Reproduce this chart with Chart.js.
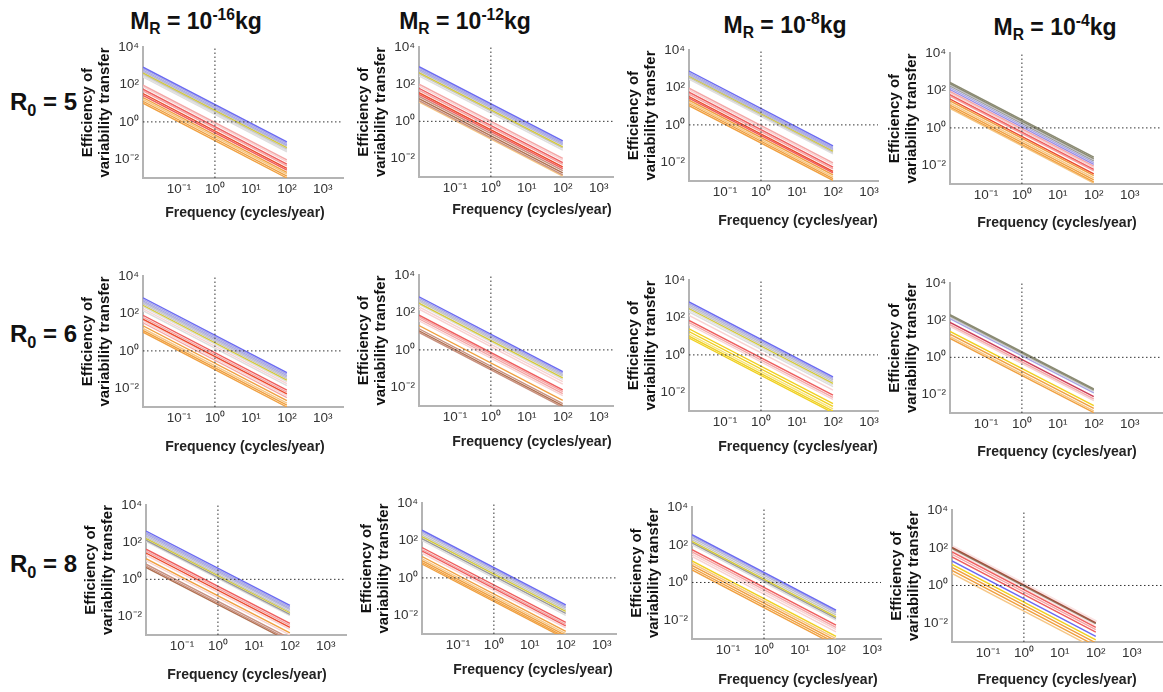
<!DOCTYPE html>
<html>
<head>
<meta charset="utf-8">
<script src="https://cdn.jsdelivr.net/npm/chart.js@4.4.1/dist/chart.umd.min.js"></script>
<style>
  body { margin: 0; width: 1163px; height: 692px; overflow: hidden; background: #fff; position: relative;
         font-family: "Liberation Sans", Arial, sans-serif; }
  .panel { position: absolute; }
  .head { position: absolute; font-weight: bold; font-size: 23px; white-space: nowrap; transform: translate(-50%, -50%); color: #111; }
  .row { position: absolute; left: 10px; font-weight: bold; font-size: 24px; white-space: nowrap; transform: translateY(-50%); color: #111; }
  sub, sup { font-size: 68%; }
</style>
</head>
<body>
<div class="head" style="left:196px;top:22px">M<sub>R</sub> = 10<sup>-16</sup>kg</div>
<div class="head" style="left:465px;top:22px">M<sub>R</sub> = 10<sup>-12</sup>kg</div>
<div class="head" style="left:785px;top:26px">M<sub>R</sub> = 10<sup>-8</sup>kg</div>
<div class="head" style="left:1055px;top:28px">M<sub>R</sub> = 10<sup>-4</sup>kg</div>
<div class="row" style="top:104px">R<sub>0</sub> = 5</div>
<div class="row" style="top:336px">R<sub>0</sub> = 6</div>
<div class="row" style="top:566px">R<sub>0</sub> = 8</div>

<script>
// axis ticks
const xTicks = [0.1, 1, 10, 100, 1000];
const xTickLabels = ['10⁻¹', '10⁰', '10¹', '10²', '10³'];
const yTicks = [0.01, 1, 100, 10000];
const yTickLabels = ['10⁻²', '10⁰', '10²', '10⁴'];
const xAxisTitle = 'Frequency (cycles/year)';
const yAxisTitle = ['Efficiency of', 'variability transfer'];
const lineStart = 0.01;
const lineEnd = 100;

// each line: [colour, value at f=0.01, value at f=100]
const r5m16 = [
  ['blue', 850, 0.085], ['lavender', 710, 0.071], ['lavender', 590, 0.059], ['grayblue', 500, 0.05],
  ['yellow', 420, 0.042], ['gray', 355, 0.0355], ['lightgray', 295, 0.0295], ['lightgray', 250, 0.025],
  ['pink', 93, 0.0093], ['lightpink', 76, 0.0076], ['red', 56, 0.0056], ['pink', 45, 0.0045],
  ['redorange', 33, 0.0033], ['red', 26, 0.0026], ['orange', 20, 0.002], ['lightorange', 16, 0.0016],
  ['orange', 12.6, 0.00126], ['orange', 10, 0.001]
];
const r5m12 = [
  ['blue', 890, 0.089], ['lavender', 740, 0.074], ['lavender', 630, 0.063], ['grayblue', 525, 0.0525],
  ['yellow', 415, 0.0415], ['gray', 355, 0.0355], ['lightgray', 280, 0.028],
  ['pink', 100, 0.01], ['lightpink', 80, 0.008], ['red', 60, 0.006], ['pink', 48, 0.0048],
  ['redorange', 35, 0.0035], ['red', 28, 0.0028], ['rosybrown', 22, 0.0022], ['brown', 16.5, 0.00165],
  ['rosybrown', 13, 0.0013], ['lightorange', 11, 0.0011]
];
const r5m8 = [
  ['blue', 760, 0.076], ['lavender', 630, 0.063], ['lavender', 540, 0.054], ['grayblue', 455, 0.0455],
  ['yellow', 400, 0.04], ['gray', 340, 0.034], ['lightgray', 280, 0.028],
  ['pink', 93, 0.0093], ['lightpink', 74, 0.0074], ['red', 56, 0.0056], ['pink', 44, 0.0044],
  ['redorange', 33, 0.0033], ['red', 27, 0.0027], ['orange', 21, 0.0021], ['lightorange', 16.5, 0.00165],
  ['orange', 13.5, 0.00135], ['orange', 10.7, 0.00107]
];
const r5m4 = [
  ['olive', 270, 0.027], ['olive', 230, 0.023], ['gray', 200, 0.02], ['darkgray', 175, 0.0175],
  ['lavender', 140, 0.014], ['bluepurple', 112, 0.0112], ['pink', 90, 0.009], ['lightpink', 74, 0.0074],
  ['red', 60, 0.006], ['pink', 50, 0.005], ['redorange', 35, 0.0035], ['orange', 28, 0.0028],
  ['lightorange', 21, 0.0021], ['orange', 16.5, 0.00165], ['orange', 13, 0.0013], ['lightorange', 11, 0.0011]
];
const r6m16 = [
  ['blue', 690, 0.069], ['lavender', 575, 0.0575], ['lavender', 480, 0.048], ['grayblue', 400, 0.04],
  ['gray', 330, 0.033], ['yellow', 275, 0.0275], ['lightgray', 230, 0.023], ['lightpink', 178, 0.0178],
  ['lightgray', 141, 0.0141], ['red', 80, 0.008], ['pink', 63, 0.0063], ['redorange', 50, 0.005],
  ['lightpink', 40, 0.004], ['pink', 32, 0.0032], ['orange', 22, 0.0022], ['lightorange', 16, 0.0016],
  ['orange', 12.5, 0.00125], ['orange', 10, 0.001]
];
const r6m12 = [
  ['blue', 690, 0.069], ['lavender', 575, 0.0575], ['grayblue', 480, 0.048], ['gray', 400, 0.04],
  ['yellow', 315, 0.0315], ['lightgray', 265, 0.0265], ['lightpink', 200, 0.02], ['lightpink', 150, 0.015],
  ['red', 72, 0.0072], ['pink', 58, 0.0058], ['pink', 46, 0.0046], ['lightpink', 36, 0.0036],
  ['orange', 20, 0.002], ['rosybrown', 13.5, 0.00135], ['brown', 10.5, 0.00105], ['rosybrown', 8.6, 0.00086]
];
const r6m8 = [
  ['blue', 675, 0.0675], ['lavender', 560, 0.056], ['grayblue', 455, 0.0455], ['gray', 370, 0.037],
  ['yellow', 300, 0.03], ['lightgray', 250, 0.025], ['lightgray', 200, 0.02], ['lightpink', 130, 0.013],
  ['red', 70, 0.007], ['pink', 54, 0.0054], ['lightpink', 42, 0.0042], ['gold', 25, 0.0025],
  ['gold', 17.8, 0.00178], ['lightgold', 13, 0.0013], ['gold', 10, 0.001], ['gold', 8, 0.0008]
];
const r6m4 = [
  ['olive', 200, 0.02], ['olive', 175, 0.0175], ['gray', 150, 0.015], ['lavender', 120, 0.012],
  ['crimson', 76, 0.0076], ['pink', 58, 0.0058], ['lightpink', 46, 0.0046], ['gold', 25, 0.0025],
  ['orange', 17.8, 0.00178], ['lightorange', 13, 0.0013], ['orange', 10.5, 0.00105]
];
const r8m16 = [
  ['blue', 400, 0.04], ['lavender', 330, 0.033], ['lavender', 275, 0.0275], ['grayblue', 230, 0.023],
  ['gray', 190, 0.019], ['yellow', 160, 0.016], ['darkgray', 130, 0.013], ['lightgray', 110, 0.011],
  ['red', 42, 0.0042], ['pink', 33, 0.0033], ['redorange', 26, 0.0026], ['lightpink', 20, 0.002],
  ['orange', 13, 0.0013], ['lightpink', 10, 0.001], ['rosybrown', 6.6, 0.00066], ['rosybrown', 5.2, 0.00052],
  ['brown', 4.4, 0.00044]
];
const r8m12 = [
  ['blue', 360, 0.036], ['lavender', 300, 0.03], ['grayblue', 250, 0.025], ['gray', 200, 0.02],
  ['yellow', 160, 0.016], ['darkgray', 126, 0.0126], ['lightgray', 100, 0.01], ['red', 42, 0.0042],
  ['pink', 33, 0.0033], ['red', 27.5, 0.00275], ['lightpink', 21, 0.0021], ['orange', 13.8, 0.00138],
  ['lightorange', 10.5, 0.00105], ['orange', 8.3, 0.00083], ['orange', 6.6, 0.00066], ['orange', 5.5, 0.00055]
];
const r8m8 = [
  ['blue', 345, 0.0345], ['lavender', 290, 0.029], ['grayblue', 240, 0.024], ['gray', 190, 0.019],
  ['yellow', 150, 0.015], ['darkgray', 126, 0.0126], ['lightgray', 100, 0.01], ['red', 55, 0.0055],
  ['pink', 42, 0.0042], ['lightpink', 32, 0.0032], ['lightpink', 24, 0.0024], ['gold', 13.8, 0.00138],
  ['lightorange', 10.5, 0.00105], ['orange', 8, 0.0008], ['orange', 6, 0.0006], ['orange', 4.6, 0.00046]
];
const r8m4 = [
  ['darkred', 105, 0.0105], ['olive', 93, 0.0093], ['red', 60, 0.006],
  ['pink', 45, 0.0045], ['red', 33, 0.0033], ['blue', 20, 0.002], ['gold', 13, 0.0013],
  ['orange', 9, 0.0009], ['orange', 6.3, 0.00063], ['lightorange', 4.4, 0.00044], ['haze', 100, 0.01]
];

const palette = {
  blue: '#6a6af2', lavender: '#a8a8e6', grayblue: '#babad2', gray: '#c6c6c6', darkgray: '#9a9a9a',
  lightgray: '#dedede', yellow: '#d4ca3a', olive: '#8a8a72', bluepurple: '#9a8ee8', pink: '#f4a6a6',
  lightpink: '#f8d2d2', red: '#ef5e5e', redorange: '#ec4a2c', crimson: '#cc3e58', darkred: '#a0503c',
  orange: '#f0a040', lightorange: '#f6c684', gold: '#f0d020', lightgold: '#f6e27a', rosybrown: '#c8907e',
  brown: '#b07050', haze: '#fbe4e4'
};

const panelLines = [r5m16, r5m12, r5m8, r5m4, r6m16, r6m12, r6m8, r6m4, r8m16, r8m12, r8m8, r8m4];

// page layout per panel: [axis x, top y (10^4), bottom y, x max, title centre x, title centre y]
const panelBoxes = [
  [143, 45, 178, 3630, 245, 213], [419, 45, 177, 2500, 532, 210], [689, 48, 181, 1780, 798, 221], [950, 51, 184, 7900, 1057, 223],
  [143, 274, 407, 3630, 245, 447], [419, 273, 406, 2500, 532, 442], [689, 278, 411, 1780, 798, 447], [950, 281, 413, 7900, 1057, 452],
  [146, 503, 635, 3630, 247, 675], [422, 501, 634, 2500, 533, 670], [692, 505, 639, 1780, 798, 680], [952, 508, 642, 7900, 1057, 680]
];

Chart.defaults.font.family = '"Liberation Sans", Arial, sans-serif';

const xTitlePlugin = {
  id: 'xTitle',
  afterDraw(chart, args, opts) {
    const ctx = chart.ctx;
    ctx.save();
    ctx.font = 'bold 14px "Liberation Sans", Arial, sans-serif';
    ctx.fillStyle = '#222';
    ctx.textAlign = 'center';
    ctx.textBaseline = 'middle';
    ctx.fillText(xAxisTitle, opts.x, opts.y);
    ctx.restore();
  }
};

panelLines.forEach((lines, i) => {
  const [ax, top, bottom, xMax, tx, ty] = panelBoxes[i];
  const yW = 68, padT = 10, padR = 16;
  const plotW = 36 * (2 + Math.log10(xMax));
  const plotH = bottom - top;
  const xH = ty - bottom + 12;
  const left = ax - yW, canvTop = top - padT;
  const w = Math.round(yW + plotW + padR), h = Math.round(padT + plotH + xH);

  const wrap = document.createElement('div');
  wrap.className = 'panel';
  wrap.style.left = left + 'px';
  wrap.style.top = canvTop + 'px';
  const cv = document.createElement('canvas');
  cv.width = w; cv.height = h;
  cv.style.width = w + 'px'; cv.style.height = h + 'px';
  wrap.appendChild(cv);
  document.body.appendChild(wrap);

  // dotted guides first so they are painted over the curves
  const datasets = [
    {
      data: [{ x: lineStart, y: 1 }, { x: xMax, y: 1 }],
      borderColor: '#333', borderWidth: 1, borderDash: [1.5, 2.5], pointRadius: 0
    },
    {
      data: [{ x: 1, y: 0.001 }, { x: 1, y: 10000 }],
      borderColor: '#333', borderWidth: 1, borderDash: [1.5, 2.5], pointRadius: 0
    }
  ];
  lines.forEach(([c, a, b]) => datasets.push({
    data: [{ x: lineStart, y: a }, { x: lineEnd, y: b }],
    borderColor: palette[c],
    borderWidth: c === 'haze' ? 6 : 1.4,
    pointRadius: 0
  }));

  new Chart(cv, {
    type: 'line',
    data: { datasets },
    plugins: [xTitlePlugin],
    options: {
      responsive: false,
      animation: false,
      layout: { padding: { left: 0, top: padT, right: padR, bottom: 0 } },
      plugins: {
        legend: { display: false },
        tooltip: { enabled: false },
        xTitle: { x: tx - left, y: ty - canvTop }
      },
      scales: {
        x: {
          type: 'logarithmic',
          min: lineStart,
          max: xMax,
          afterBuildTicks: s => { s.ticks = xTicks.map(v => ({ value: v })); },
          afterFit: s => { s.height = xH; },
          ticks: {
            autoSkip: false, maxRotation: 0, padding: 3, color: '#333', font: { size: 13.5 },
            callback: v => xTickLabels[xTicks.indexOf(v)]
          },
          grid: { display: false, drawTicks: false },
          border: { color: '#b4b4b4', width: 2 }
        },
        y: {
          type: 'logarithmic',
          min: 0.001,
          max: 10000,
          afterBuildTicks: s => { s.ticks = yTicks.map(v => ({ value: v })); },
          afterFit: s => { s.width = yW; },
          ticks: {
            autoSkip: false, padding: 4, color: '#333', font: { size: 13.5 },
            callback: v => yTickLabels[yTicks.indexOf(v)]
          },
          grid: { display: false, drawTicks: false },
          border: { color: '#b4b4b4', width: 2 },
          title: {
            display: true, text: yAxisTitle, color: '#111',
            font: { size: 15, weight: 'bold', lineHeight: 1.15 },
            padding: { top: 4, bottom: 0 }
          }
        }
      }
    }
  });
});
</script>
</body>
</html>
